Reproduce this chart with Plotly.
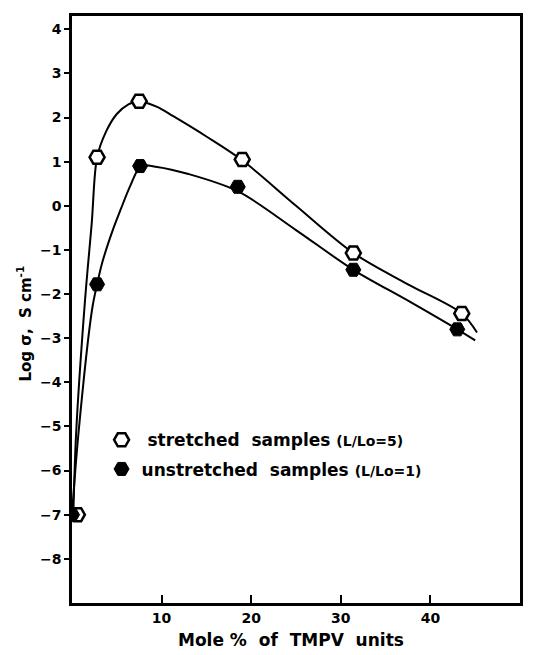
import plotly.graph_objects as go

# ---- data ----
stretched_x = [0.6, 2.8, 7.5, 19.0, 31.4, 43.5]
stretched_y = [-7.0, 1.1, 2.37, 1.05, -1.07, -2.44]

unstretched_x = [0.0, 2.8, 7.6, 18.5, 31.4, 43.0]
unstretched_y = [-7.0, -1.78, 0.9, 0.43, -1.45, -2.8]

# fitted (hand drawn) curves
stretched_curve_x = [0.15, 0.45, 1.45, 2.2, 2.8, 3.8, 5.0, 6.3, 7.5, 9.5, 11.3, 15.0, 19.0, 25.0, 31.4, 37.5, 43.5, 45.2]
stretched_curve_y = [-7.0, -5.2, -2.15, -0.4, 1.1, 1.68, 2.08, 2.3, 2.37, 2.24, 2.03, 1.57, 1.03, 0.0, -1.07, -1.78, -2.44, -2.87]

unstretched_curve_x = [0.0, 0.7, 2.24, 2.8, 3.4, 4.5, 5.5, 6.5, 7.7, 9.5, 13.0, 18.5, 25.0, 31.4, 37.5, 43.0, 45.0]
unstretched_curve_y = [-7.0, -5.2, -2.35, -1.78, -1.27, -0.58, -0.05, 0.45, 0.9, 0.88, 0.72, 0.33, -0.55, -1.45, -2.15, -2.8, -3.05]

y_ticks = [-8, -7, -6, -5, -4, -3, -2, -1, 0, 1, 2, 3, 4]
x_ticks = [10, 20, 30, 40]

FONT = "DejaVu Sans, Liberation Sans, Arial, sans-serif"

legend_stretched = "<b> stretched  samples </b><b><span style='font-size:14px'>(L/Lo=5)</span></b>"
legend_unstretched = "<b>unstretched  samples </b><b><span style='font-size:14px'>(L/Lo=1)</span></b>"

fig = go.Figure()

fig.add_trace(go.Scatter(x=stretched_curve_x, y=stretched_curve_y, mode="lines",
                         line=dict(color="black", width=2, shape="spline", smoothing=0.9),
                         showlegend=False, hoverinfo="skip"))
fig.add_trace(go.Scatter(x=unstretched_curve_x, y=unstretched_curve_y, mode="lines",
                         line=dict(color="black", width=2, shape="spline", smoothing=0.9),
                         showlegend=False, hoverinfo="skip"))

fig.add_trace(go.Scatter(x=stretched_x, y=stretched_y, mode="markers", name=legend_stretched,
                         legendgroup="a",
                         marker=dict(symbol="hexagon2", size=15, color="white",
                                     line=dict(color="black", width=2.5))))
fig.add_trace(go.Scatter(x=unstretched_x, y=unstretched_y, mode="markers", name=legend_unstretched,
                         legendgroup="b",
                         marker=dict(symbol="hexagon2", size=15, color="black",
                                     line=dict(color="black", width=1))))

fig.update_layout(
    width=533, height=647,
    margin=dict(l=64, r=21, t=5, b=52),
    paper_bgcolor="white", plot_bgcolor="white",
    font=dict(family=FONT, color="black"),
    showlegend=True,
    legend=dict(x=0.066, y=0.2525, xanchor="left", yanchor="middle",
                bgcolor="rgba(0,0,0,0)", borderwidth=0,
                font=dict(size=17, color="black", family=FONT),
                tracegroupgap=4, traceorder="grouped", itemwidth=30),
    xaxis=dict(range=[0, 50], tickvals=x_ticks, ticks="inside", ticklen=8, tickwidth=2,
               tickcolor="black", showline=True, linecolor="black", linewidth=2.5, mirror=True,
               showgrid=False, zeroline=False,
               tickfont=dict(family=FONT, size=14, color="black", weight="bold")),
    yaxis=dict(range=[-9, 4.3], tickvals=y_ticks, ticks="outside", ticklen=5, tickwidth=2,
               tickcolor="black", showline=True, linecolor="black", linewidth=2.5, mirror=True,
               showgrid=False, zeroline=False,
               tickfont=dict(family=FONT, size=14, color="black", weight="bold")),
    annotations=[
        dict(text="<b>Mole %  of  TMPV  units</b>", xref="paper", yref="paper",
             x=0.489, y=0, yshift=-37, xanchor="center", yanchor="middle", showarrow=False,
             font=dict(size=17, color="black", family=FONT)),
        dict(text="<b>Log σ,  S cm<sup>-1</sup></b>", xref="paper", yref="paper",
             x=0, xshift=-48, y=0.476, xanchor="center", yanchor="middle", showarrow=False,
             textangle=-90,
             font=dict(size=15, color="black", family=FONT)),
    ],
)

fig.write_html("out.html")
